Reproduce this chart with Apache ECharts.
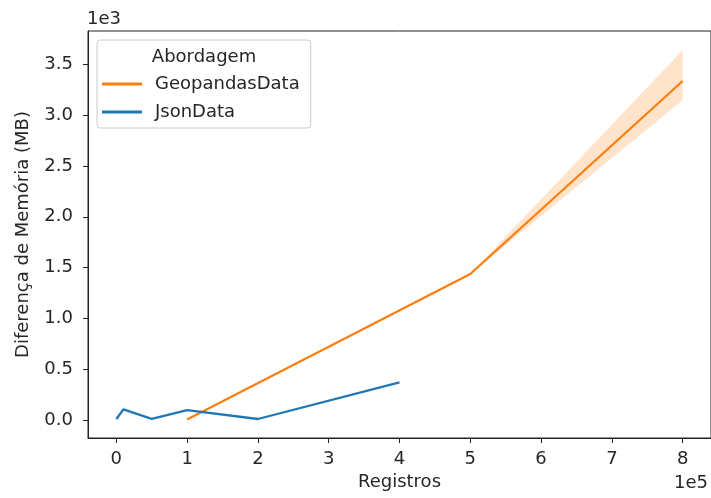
<!DOCTYPE html>
<html>
<head>
<meta charset="utf-8">
<script src="https://cdn.jsdelivr.net/npm/echarts@6/dist/echarts.min.js"></script>
<style>
html,body{margin:0;padding:0;background:#fff;}
#chart{width:711px;height:498px;}
</style>
</head>
<body>
<div id="chart"></div>
<script>
// ---- data ----
const legendTitle = "Abordagem";
const seriesNames = ["GeopandasData", "JsonData"];
const geoX = [100000, 500000, 800000];
const geoY = [5, 1437, 3337];
const geoLow = [5, 1437, 3150];
const geoHigh = [5, 1437, 3642];
const jsonX = [100, 1000, 10000, 50000, 100000, 200000, 400000];
const jsonY = [10, 10, 105, 12, 98, 10, 371];
const xTicks = [0, 100000, 200000, 300000, 400000, 500000, 600000, 700000, 800000];
const yTicks = [0, 500, 1000, 1500, 2000, 2500, 3000, 3500];
const xLabel = "Registros";
const yLabel = "Diferença de Memória (MB)";
const xExp = "1e5";
const yExp = "1e3";

const FONT = "DejaVu Sans";
const FS = 18;
const ORANGE = "#ff7f0e", BLUE = "#1f77b4";

const chart = echarts.init(document.getElementById('chart'), null, {renderer: 'canvas'});

const pair = (xs, ys) => xs.map((x, i) => [x, ys[i]]);

chart.setOption({
  animation: false,
  backgroundColor: '#fff',
  textStyle: {fontFamily: FONT},
  grid: {left: 88, right: -2, top: 31, bottom: 60, show: true, borderColor: '#222', borderWidth: 1, containLabel: false},
  xAxis: {
    type: 'value', min: -40000, max: 840000,
    name: xLabel, nameLocation: 'middle', nameGap: 34,
    nameTextStyle: {fontFamily: FONT, fontSize: FS, color: '#262626'},
    axisLine: {show: true, onZero: false, lineStyle: {color: '#222', width: 1}},
    axisTick: {show: true, length: 5, inside: false, customValues: xTicks, lineStyle: {color: '#222'}},
    axisLabel: {customValues: xTicks, margin: 12, fontFamily: FONT, fontSize: FS, color: '#262626',
      formatter: v => String(Math.round(v / 100000))},
    splitLine: {show: false}
  },
  yAxis: {
    type: 'value', min: -177, max: 3829,
    name: yLabel, nameLocation: 'middle', nameGap: 56, nameRotate: 90,
    nameTextStyle: {fontFamily: FONT, fontSize: FS, color: '#262626'},
    axisLine: {show: true, onZero: false, lineStyle: {color: '#222', width: 1}},
    axisTick: {show: true, length: 5, inside: false, customValues: yTicks, lineStyle: {color: '#222'}},
    axisLabel: {customValues: yTicks, margin: 15, fontFamily: FONT, fontSize: FS, color: '#262626',
      formatter: v => (v / 1000).toFixed(1)},
    splitLine: {show: false}
  },
  legend: {
    orient: 'vertical', left: 97, top: 40,
    padding: [34, 11, 6, 5],
    itemGap: 8, itemWidth: 40, itemHeight: 3,
    backgroundColor: 'rgba(255,255,255,0.8)',
    borderColor: '#cccccc', borderWidth: 1, borderRadius: 3,
    data: [
      {name: seriesNames[0], icon: 'rect', itemStyle: {color: ORANGE}},
      {name: seriesNames[1], icon: 'rect', itemStyle: {color: BLUE}}
    ],
    textStyle: {fontFamily: FONT, fontSize: FS, color: '#262626', lineHeight: 20, padding: [0, 0, 0, 8]}
  },
  graphic: [
    {type: 'text', left: 87, top: 10, style: {text: yExp, font: FS + 'px "' + FONT + '"', fill: '#262626'}},
    {type: 'text', right: 3, top: 474, style: {text: xExp, font: FS + 'px "' + FONT + '"', fill: '#262626'}},
    {type: 'text', x: 204, y: 57, style: {text: legendTitle, font: FS + 'px "' + FONT + '"', fill: '#262626', align: 'center', verticalAlign: 'middle'}, z: 100}
  ],
  series: [
    {name: 'band', type: 'custom', silent: true, z: 1,
      data: [0],
      renderItem: function (params, api) {
        const pts = [];
        for (let i = 0; i < geoX.length; i++) pts.push(api.coord([geoX[i], geoHigh[i]]));
        for (let i = geoX.length - 1; i >= 0; i--) pts.push(api.coord([geoX[i], geoLow[i]]));
        return {type: 'polygon', shape: {points: pts}, style: {fill: 'rgba(255,127,14,0.22)', stroke: 'none'}};
      }
    },
    {name: seriesNames[0], type: 'line', data: pair(geoX, geoY), symbol: 'none',
      lineStyle: {color: ORANGE, width: 2.3}, itemStyle: {color: ORANGE}, z: 3},
    {name: seriesNames[1], type: 'line', data: pair(jsonX, jsonY), symbol: 'none',
      lineStyle: {color: BLUE, width: 2.3}, itemStyle: {color: BLUE}, z: 4}
  ]
});
</script>
</body>
</html>
